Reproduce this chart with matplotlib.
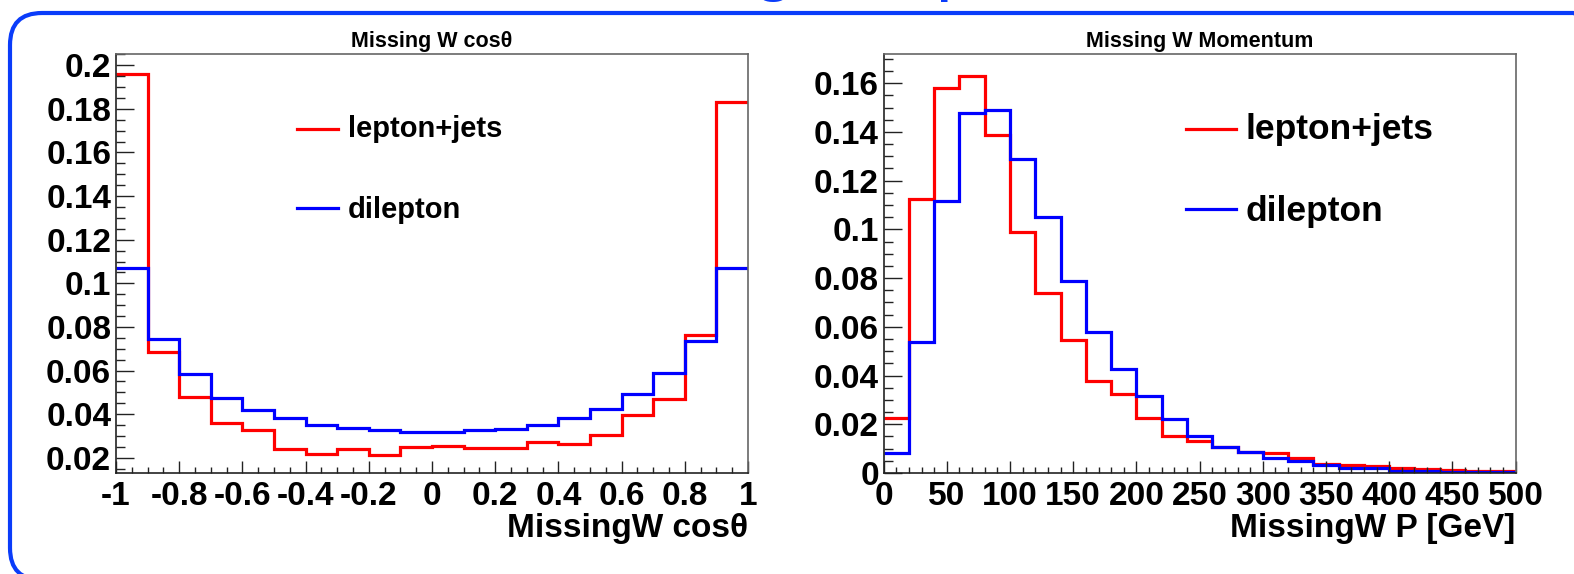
import numpy as np
import matplotlib.pyplot as plt
from matplotlib.patches import FancyBboxPatch
from matplotlib.ticker import MultipleLocator
from matplotlib.transforms import IdentityTransform

plt.rcParams['font.family'] = ['Liberation Sans', 'DejaVu Sans']
plt.rcParams['font.weight'] = 'bold'
plt.rcParams['axes.unicode_minus'] = False

# ── missing W cos(theta): 20 bins on [-1, 1] ───────────────────────
cos_edges = np.linspace(-1.0, 1.0, 21)
cos_ljets = [0.1962, 0.0686, 0.0480, 0.0358, 0.0326, 0.0240, 0.0218, 0.0240, 0.0214, 0.0249,
             0.0254, 0.0245, 0.0246, 0.0271, 0.0265, 0.0303, 0.0395, 0.0469, 0.0763, 0.1833]
cos_dilep = [0.1068, 0.0746, 0.0585, 0.0474, 0.0418, 0.0382, 0.0352, 0.0335, 0.0325, 0.0320,
             0.0320, 0.0325, 0.0334, 0.0352, 0.0382, 0.0422, 0.0491, 0.0588, 0.0734, 0.1072]
cos_xticks = [-1, -0.8, -0.6, -0.4, -0.2, 0, 0.2, 0.4, 0.6, 0.8, 1]
cos_xlabels = ['-1', '-0.8', '-0.6', '-0.4', '-0.2', '0', '0.2', '0.4', '0.6', '0.8', '1']
cos_yticks = [0.02, 0.04, 0.06, 0.08, 0.10, 0.12, 0.14, 0.16, 0.18, 0.20]
cos_ylabels = ['0.02', '0.04', '0.06', '0.08', '0.1', '0.12', '0.14', '0.16', '0.18', '0.2']

# ── missing W momentum: 25 bins on [0, 500] GeV ────────────────────
p_edges = np.linspace(0.0, 500.0, 26)
p_ljets = [0.0227, 0.1125, 0.1580, 0.1631, 0.1386, 0.0989, 0.0737, 0.0544, 0.0379, 0.0325,
           0.0226, 0.0153, 0.0133, 0.0106, 0.0087, 0.0082, 0.0062, 0.0038, 0.0031, 0.0027,
           0.0019, 0.0016, 0.0012, 0.0009, 0.0008]
p_dilep = [0.0084, 0.0539, 0.1118, 0.1477, 0.1492, 0.1290, 0.1049, 0.0787, 0.0580, 0.0426,
           0.0315, 0.0223, 0.0152, 0.0106, 0.0087, 0.0061, 0.0049, 0.0031, 0.0022, 0.0019,
           0.0008, 0.0007, 0.0005, 0.0004, 0.0003]
p_xticks = [0, 50, 100, 150, 200, 250, 300, 350, 400, 450, 500]
p_xlabels = [str(v) for v in p_xticks]
p_yticks = [0, 0.02, 0.04, 0.06, 0.08, 0.10, 0.12, 0.14, 0.16]
p_ylabels = ['0', '0.02', '0.04', '0.06', '0.08', '0.1', '0.12', '0.14', '0.16']

series_names = ['lepton+jets', 'dilepton']
series_colors = ['#ff0000', '#0000ff']

panels = [
    dict(rect=[0.0737, 0.176, 0.4015, 0.730], edges=cos_edges, vals=[cos_ljets, cos_dilep],
         xlim=(-1, 1), ylim=(0.013, 0.2052), xticks=cos_xticks, xlabels=cos_xlabels,
         yticks=cos_yticks, ylabels=cos_ylabels, xminor=0.05, yminor=0.005,
         title='Missing W cos\u03b8', xtitle='MissingW cos\u03b8',
         leg_line=(0.2864, 0.3513), leg_text=0.3671, leg_y=[0.8203, 0.6317],
         leg_base=[0.8026, 0.6079], leg_size=21),
    dict(rect=[0.5614, 0.176, 0.4015, 0.730], edges=p_edges, vals=[p_ljets, p_dilep],
         xlim=(0, 500), ylim=(0, 0.172), xticks=p_xticks, xlabels=p_xlabels,
         yticks=p_yticks, ylabels=p_ylabels, xminor=10, yminor=0.005,
         title='Missing W Momentum', xtitle='MissingW P [GeV]',
         leg_line=(0.4783, 0.5574), leg_text=0.5728, leg_y=[0.821, 0.630],
         leg_base=[0.7964, 0.6014], leg_size=25.5),
]

W, H = 1574, 574
fig = plt.figure(figsize=(W / 100, H / 100), dpi=100)

# slide frame, drawn in output pixels (origin bottom-left)
frame_blue = '#0a3cfa'
frame = FancyBboxPatch((10, H - 580), 1595, 567, boxstyle='round,pad=0,rounding_size=32',
                       fill=False, ec=frame_blue, lw=3, transform=IdentityTransform())
fig.add_artist(frame)
# slide heading, cut by the top edge
for ch, x in [('g', 774), ('p', 956)]:
    fig.text(x, H + 13, ch, fontsize=54, fontweight='normal', color=frame_blue,
             ha='center', va='baseline', transform=IdentityTransform())

for cfg in panels:
    ax = fig.add_axes(cfg['rect'])
    for vals, color in zip(cfg['vals'], series_colors):
        ax.stairs(vals, cfg['edges'], baseline=None, color=color, lw=2.3)

    ax.set_xlim(*cfg['xlim'])
    ax.set_ylim(*cfg['ylim'])
    ax.set_xticks(cfg['xticks'], cfg['xlabels'])
    ax.set_yticks(cfg['yticks'], cfg['ylabels'])
    ax.xaxis.set_minor_locator(MultipleLocator(cfg['xminor']))
    ax.yaxis.set_minor_locator(MultipleLocator(cfg['yminor']))
    ax.tick_params(which='both', direction='in', width=1.0, color='#222',
                   labelsize=24, top=False, right=False)
    ax.tick_params(axis='y', which='major', length=13, pad=3.5)
    ax.tick_params(axis='y', which='minor', length=6.5)
    ax.tick_params(axis='x', which='major', length=8.6, pad=6)
    ax.tick_params(axis='x', which='minor', length=4.3)
    for side in ['left', 'bottom']:
        ax.spines[side].set_color('#222')
        ax.spines[side].set_linewidth(1.2)
    for side in ['top', 'right']:
        ax.spines[side].set_color('#666')
        ax.spines[side].set_linewidth(1.2)

    ax.text(0.5, 1.0167, cfg['title'], transform=ax.transAxes, ha='center',
            va='baseline', fontsize=15.5)
    ax.text(1.0, -0.153, cfg['xtitle'], transform=ax.transAxes, ha='right',
            va='baseline', fontsize=24)

    # legend entries
    for name, color, ly, lb in zip(series_names, series_colors, cfg['leg_y'], cfg['leg_base']):
        ax.plot(cfg['leg_line'], [ly, ly], transform=ax.transAxes, color=color, lw=2.3)
        ax.text(cfg['leg_text'], lb, name, transform=ax.transAxes, ha='left',
                va='baseline', fontsize=cfg['leg_size'])

fig.savefig('out.png', dpi=100)
